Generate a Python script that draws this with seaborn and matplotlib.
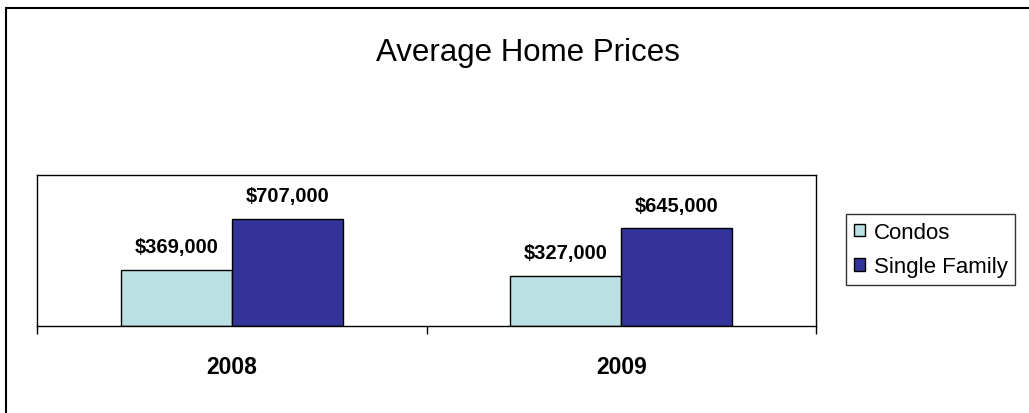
import matplotlib
matplotlib.use("Agg")
import matplotlib.pyplot as plt
from matplotlib.patches import Rectangle
import pandas as pd
import seaborn as sns

years = ["2008", "2009"]
condos = [369000, 327000]
single_family = [707000, 645000]
series = ["Condos", "Single Family"]
colors = ["#BBE0E3", "#333399"]

df = pd.DataFrame({
    "year": years * 2,
    "price": condos + single_family,
    "type": [series[0]] * 2 + [series[1]] * 2,
})

sns.set_style("white")
plt.rcParams['font.family'] = ['Liberation Sans', 'DejaVu Sans']
plt.rcParams['text.color'] = 'black'
plt.rcParams['xtick.color'] = 'black'
plt.rcParams['xtick.labelcolor'] = 'black'

fig = plt.figure(figsize=(10.29, 4.14), dpi=100)
ax = fig.add_axes([37/1029, 1-326.5/414, 779/1029, 150.5/414])

sns.barplot(data=df, x="year", y="price", hue="type", palette=colors,
            width=0.57, edgecolor="black", linewidth=1, ax=ax,
            legend=False, saturation=1)

ax.set_xlim(-0.5, 1.5)
ax.set_ylim(0, 1000000)
ax.set_xlabel("")
ax.set_ylabel("")
ax.set_yticks([])
for s in ax.spines.values():
    s.set_color("black")
    s.set_linewidth(1)

ax.set_xticks([0, 1])
ax.set_xticklabels(years, fontsize=16.5, fontweight="bold")
ax.tick_params(axis="x", which="major", length=0, pad=21)
ax.set_xticks([-0.5, 0.5, 1.5], minor=True)
ax.tick_params(axis="x", which="minor", bottom=True, length=6, width=1,
               direction="out", color="black")

for c in ax.containers:
    ax.bar_label(c, labels=[f"${v:,.0f}" for v in c.datavalues],
                 padding=10, fontsize=14.5, fontweight="bold")

handles = [Rectangle((0, 0), 1, 1, facecolor=col, edgecolor="black", linewidth=1) for col in colors]
leg = fig.legend(handles, series, loc="upper left",
                 bbox_to_anchor=(846/1029, 1-215/414), fontsize=16,
                 frameon=True, fancybox=False, edgecolor="black",
                 handlelength=0.5, handleheight=0.5, handletextpad=0.4,
                 labelspacing=0.6, borderpad=0.35, borderaxespad=0)
leg.get_frame().set_linewidth(1)

fig.text(528/1029, 1-53/414, "Average Home Prices", ha="center", va="center", fontsize=22.5)

# outer chart border (right/bottom edges fall outside the image)
fig.patches.append(Rectangle((6/1029, -0.1), 1.5, 1-8.5/414 + 0.1,
                             transform=fig.transFigure, fill=False,
                             edgecolor="black", linewidth=1.5))

fig.savefig("out.png", dpi=100)
